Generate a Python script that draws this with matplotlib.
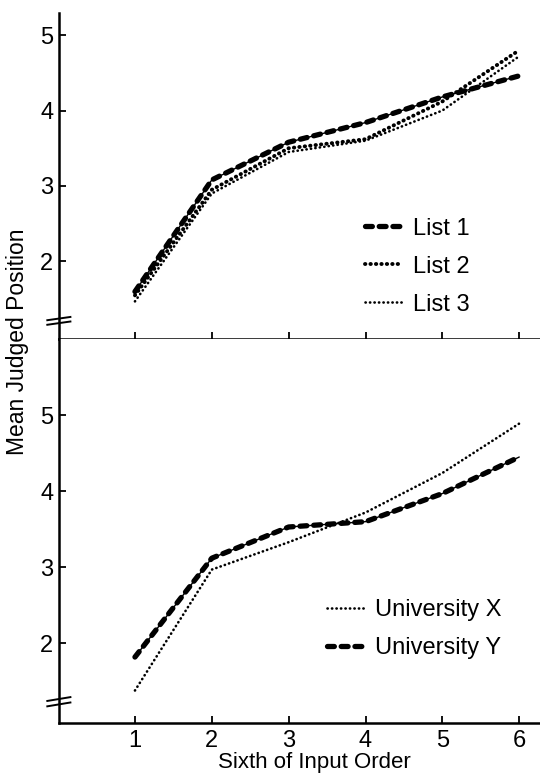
import numpy as np
import matplotlib
matplotlib.use("Agg")
import matplotlib.pyplot as plt

plt.rcParams['font.family'] = ['Liberation Sans', 'DejaVu Sans']

# sixths of input order
sixths = [1, 2, 3, 4, 5, 6]

# top panel: three lists
list1 = [1.60, 3.08, 3.58, 3.84, 4.18, 4.46]
list2 = [1.55, 2.95, 3.50, 3.62, 4.12, 4.80]
list3 = [1.47, 2.90, 3.45, 3.60, 4.00, 4.72]

# bottom panel: two universities
univ_x = [1.38, 2.97, 3.33, 3.72, 4.24, 4.89]
univ_y = [1.82, 3.12, 3.53, 3.60, 3.97, 4.45]

yticks = [2, 3, 4, 5]
xticks = [1, 2, 3, 4, 5, 6]

fig = plt.figure(figsize=(5.4, 7.76), dpi=100)
ax_top = fig.add_axes([0.109, 0.563, 0.891, 0.420])
ax_bot = fig.add_axes([0.109, 0.068, 0.891, 0.495])


def beads(ax, x, y, label=None):
    # chain of elongated dots joined by a thin line
    ax.plot(x, y, color='black', linewidth=1.0, solid_capstyle='round')
    h, = ax.plot(x, y, color='black', linewidth=3.8,
                 linestyle=(0, (1.3, 1.3)), dash_capstyle='round', label=label)
    return h


def dots(ax, x, y, lw, gap, label=None):
    h, = ax.plot(x, y, color='black', linewidth=lw,
                 linestyle=(0, (0.1, gap)), dash_capstyle='round', label=label)
    return h


leg_kw = dict(loc='upper left', frameon=False, fontsize=17, handlelength=1.6,
              handletextpad=0.42, labelspacing=0.68, borderaxespad=0, borderpad=0)

# top panel
h1 = beads(ax_top, sixths, list1, 'List 1')
h2 = dots(ax_top, sixths, list2, 2.8, 1.3, 'List 2')
h3 = dots(ax_top, sixths, list3, 1.9, 1.6, 'List 3')
ax_top.legend(handles=[h1, h2, h3], bbox_to_anchor=(0.636, 0.373), **leg_kw)

# bottom panel
hx = dots(ax_bot, sixths, univ_x, 1.9, 1.6, 'University X')
hy = beads(ax_bot, sixths, univ_y, 'University Y')
ax_bot.legend(handles=[hx, hy], bbox_to_anchor=(0.557, 0.323), **leg_kw)

ax_top.set_ylim(0.97, 5.29)
ax_bot.set_ylim(0.95, 6.0)
for ax in (ax_top, ax_bot):
    ax.set_xlim(0.01, 6.27)
    ax.set_xticks(xticks)
    ax.set_yticks(yticks)
    ax.spines['top'].set_visible(False)
    ax.spines['right'].set_visible(False)
    ax.spines['left'].set_linewidth(1.8)
    ax.spines['bottom'].set_linewidth(1.8)
    ax.tick_params(direction='in', length=5, width=1.3, labelsize=17, pad=4)
    # axis break mark near bottom of y axis
    for dy in (0.0, 0.014):
        ax.plot([-0.024, 0.024], [0.044 + dy, 0.054 + dy], transform=ax.transAxes,
                color='black', linewidth=1.4, clip_on=False)

ax_top.tick_params(axis='x', labelbottom=False)
ax_bot.tick_params(axis='x', pad=5)
ax_bot.set_xticklabels([str(v) for v in xticks])

fig.text(0.033, 0.56, 'Mean Judged Position', rotation=90, ha='center', va='center',
         fontsize=16.5)
fig.text(0.583, 0.004, 'Sixth of Input Order', ha='center', va='bottom', fontsize=16)

fig.savefig('out.png', dpi=100)
plt.close(fig)
